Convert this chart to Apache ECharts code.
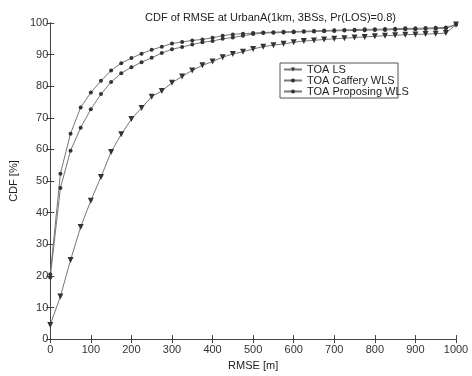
<!DOCTYPE html>
<html>
<head>
<meta charset="utf-8">
<script src="https://cdn.jsdelivr.net/npm/echarts@6/dist/echarts.min.js"></script>
<style>html,body{margin:0;padding:0;background:#fff;}#c{width:472px;height:376px;}</style>
</head>
<body>
<div id="c"></div>
<script>
const titleText = 'CDF of RMSE at UrbanA(1km, 3BSs, Pr(LOS)=0.8)';
const xLabel = 'RMSE [m]';
const yLabel = 'CDF [%]';
const seriesNames = ['TOA LS', 'TOA Caffery WLS', 'TOA Proposing WLS'];
const rmse = [0,25,50,75,100,125,150,175,200,225,250,275,300,325,350,375,400,425,450,475,500,525,550,575,600,625,650,675,700,725,750,775,800,825,850,875,900,925,950,975,1000];
const ls = [4.5,13.5,25,35.5,43.8,51.3,59.2,64.8,69.6,73.1,76.7,78.5,81.1,83.1,85,86.6,87.8,89.2,90.2,90.9,91.8,92.5,93,93.4,93.9,94.3,94.5,94.8,95,95.2,95.4,95.6,95.8,96,96.1,96.3,96.4,96.5,96.6,96.8,99.5];
const caffery = [19.5,47.8,59.6,66.9,72.7,77.5,81.3,84.1,86,87.6,89,90.5,91.7,92.4,93.2,93.9,94.3,95,95.4,96,96.5,96.8,96.9,97,97.1,97.2,97.3,97.4,97.5,97.6,97.6,97.7,97.8,97.8,97.9,98,98,98.1,98.2,98.3,99.5];
const proposing = [20.5,52.3,65,73.3,78,81.7,85,87.3,88.9,90.3,91.5,92.5,93.5,94,94.5,94.8,95.3,96,96.4,96.6,96.8,97,97.1,97.2,97.3,97.4,97.5,97.6,97.7,97.8,97.9,98,98,98.1,98.2,98.3,98.3,98.4,98.5,98.6,99.5];

const zip = (xs, ys) => xs.map((x, i) => [x, ys[i]]);
const font = 'Liberation Sans, Arial, sans-serif';
const axisCol = '#444';
const lineCol = '#777';
const markCol = '#333';

const chart = echarts.init(document.getElementById('c'), null, {renderer: 'canvas'});
function mkSeries(name, data, symbol, size, rot) {
  return {
    name: name, type: 'line', data: data, symbol: symbol, symbolSize: size, symbolRotate: rot,
    showSymbol: true, animation: false,
    lineStyle: {color: lineCol, width: 1},
    itemStyle: {color: markCol, borderWidth: 0}
  };
}
const baseAxis = {
  axisLine: {show: true, lineStyle: {color: axisCol, width: 1}},
  axisTick: {show: true, inside: true, length: 4, lineStyle: {color: axisCol}},
  splitLine: {show: false}
};
chart.setOption({
  backgroundColor: '#fff',
  animation: false,
  title: {
    text: titleText, left: 140, top: 7,
    textStyle: {fontFamily: font, fontSize: 11, fontWeight: 'normal', color: '#222'}
  },
  grid: {left: 37, right: 16, top: 23, bottom: 27, containLabel: false},
  legend: {
    orient: 'vertical', left: 283, top: 64, itemGap: 0, itemWidth: 18, itemHeight: 5,
    padding: 0,
    data: seriesNames,
    textStyle: {fontFamily: font, fontSize: 11, color: '#222', lineHeight: 10}
  },
  graphic: [{
    type: 'rect', shape: {x: 280, y: 63, width: 118, height: 35},
    style: {fill: '#fff', stroke: '#555', lineWidth: 1}, z: 0
  }],
  xAxis: [
    Object.assign({}, baseAxis, {
      type: 'value', min: 0, max: 1000, interval: 100, position: 'bottom',
      name: xLabel, nameLocation: 'middle', nameGap: 16,
      nameTextStyle: {fontFamily: font, fontSize: 11, color: '#222'},
      axisLabel: {fontFamily: font, fontSize: 11, color: '#333', margin: 5, formatter: v => String(v)}
    }),
    Object.assign({}, baseAxis, {
      type: 'value', min: 0, max: 1000, interval: 100, position: 'top',
      axisLabel: {show: false}
    })
  ],
  yAxis: [
    Object.assign({}, baseAxis, {
      type: 'value', min: 0, max: 100, interval: 10, position: 'left',
      name: yLabel, nameLocation: 'middle', nameGap: 22,
      nameTextStyle: {fontFamily: font, fontSize: 11, color: '#222'},
      axisLabel: {fontFamily: font, fontSize: 11, color: '#333', margin: 2}
    }),
    Object.assign({}, baseAxis, {
      type: 'value', min: 0, max: 100, interval: 10, position: 'right',
      axisLabel: {show: false}
    })
  ],
  series: [
    mkSeries(seriesNames[0], zip(rmse, ls), 'triangle', 6, 180),
    mkSeries(seriesNames[1], zip(rmse, caffery), 'circle', 4, 0),
    mkSeries(seriesNames[2], zip(rmse, proposing), 'circle', 4, 0)
  ]
});
</script>
</body>
</html>
